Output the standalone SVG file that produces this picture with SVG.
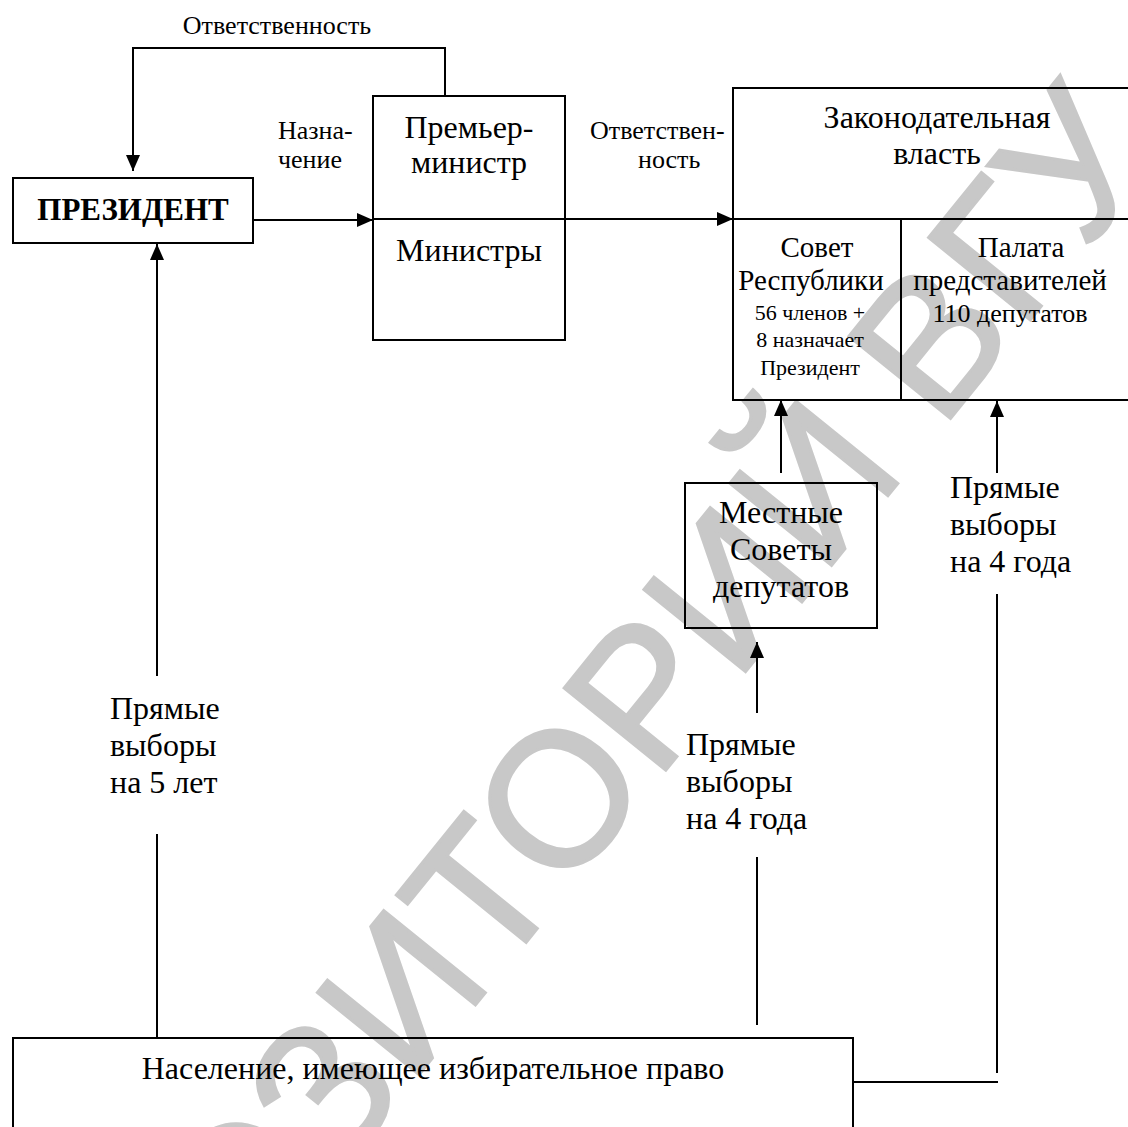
<svg xmlns="http://www.w3.org/2000/svg" width="1128" height="1127" viewBox="0 0 1128 1127">
<style>
  .t { font-family: "Liberation Serif", "Times New Roman", serif; fill: #000; }
  .s26 { font-size: 26px; }
  .s32 { font-size: 32px; }
  .s29 { font-size: 29px; }
  .s22 { font-size: 22px; }
  .c { text-anchor: middle; }
  .box { fill: none; stroke: #000; stroke-width: 2; }
  .ln { fill: none; stroke: #000; stroke-width: 2; }
  .wm { font-family: "Liberation Sans", Arial, sans-serif; font-size: 190px; fill: #c8c8c8; stroke: #c8c8c8; stroke-width: 3; }
</style>
<defs>
  <marker id="ah" markerUnits="userSpaceOnUse" markerWidth="16" markerHeight="14" refX="16" refY="7" orient="auto">
    <path d="M0,0 L16,7 L0,14 z" fill="#000"/>
  </marker>
</defs>
<rect x="0" y="0" width="1128" height="1127" fill="#fff"/>
<text class="wm" text-anchor="middle" transform="translate(580,876) rotate(-51)">РЕПОЗИТОРИЙ ВГУ</text>

<g id="connectors">
  <polyline class="ln" points="445,96 445,48 133,48 133,171" marker-end="url(#ah)"/>
  <line class="ln" x1="253" y1="220" x2="373" y2="220" marker-end="url(#ah)"/>
  <line class="ln" x1="565" y1="219" x2="733" y2="219" marker-end="url(#ah)"/>
  <line class="ln" x1="157" y1="676" x2="157" y2="244" marker-end="url(#ah)"/>
  <line class="ln" x1="157" y1="834" x2="157" y2="1037"/>
  <line class="ln" x1="781" y1="473" x2="781" y2="400" marker-end="url(#ah)"/>
  <line class="ln" x1="997" y1="473" x2="997" y2="401" marker-end="url(#ah)"/>
  <line class="ln" x1="997" y1="594" x2="997" y2="1073"/>
  <line class="ln" x1="853" y1="1082" x2="998" y2="1082"/>
  <line class="ln" x1="757" y1="713" x2="757" y2="642" marker-end="url(#ah)"/>
  <line class="ln" x1="757" y1="857" x2="757" y2="1025"/>
  <text class="t s26 c" x="277" y="34">Ответственность</text>
  <text class="t s26" x="278" y="139">Назна-</text>
  <text class="t s26" x="278" y="168">чение</text>
  <text class="t s26" x="590" y="139">Ответствен-</text>
  <text class="t s26" x="638" y="168">ность</text>
  <text class="t s32" x="110" y="719">Прямые</text>
  <text class="t s32" x="110" y="756">выборы</text>
  <text class="t s32" x="110" y="793">на 5 лет</text>
  <text class="t s32" x="686" y="755">Прямые</text>
  <text class="t s32" x="686" y="792">выборы</text>
  <text class="t s32" x="686" y="829">на 4 года</text>
  <text class="t s32" x="950" y="498">Прямые</text>
  <text class="t s32" x="950" y="535">выборы</text>
  <text class="t s32" x="950" y="572">на 4 года</text>
</g>

<g id="president">
  <rect class="box" x="13" y="178" width="240" height="65"/>
  <text class="t c" x="133" y="220" style="font-size:31px;font-weight:bold">ПРЕЗИДЕНТ</text>
</g>

<g id="premier">
  <rect class="box" x="373" y="96" width="192" height="244"/>
  <line class="ln" x1="373" y1="219" x2="565" y2="219"/>
  <text class="t s32 c" x="469" y="138">Премьер-</text>
  <text class="t s32 c" x="469" y="173">министр</text>
  <text class="t s32 c" x="469" y="261">Министры</text>
</g>

<g id="legislature">
  <path class="box" d="M1130,88 H733 V400 H1130"/>
  <line class="ln" x1="733" y1="219" x2="1130" y2="219"/>
  <line class="ln" x1="901" y1="219" x2="901" y2="400"/>
  <text class="t s32 c" x="937" y="128">Законодательная</text>
  <text class="t s32 c" x="937" y="164">власть</text>
  <text class="t s29 c" x="817" y="257">Совет</text>
  <text class="t s29 c" x="811" y="290">Республики</text>
  <text class="t s22 c" x="810" y="320">56 членов +</text>
  <text class="t s22 c" x="810" y="347">8 назначает</text>
  <text class="t s22 c" x="810" y="375">Президент</text>
  <text class="t s29 c" x="1021" y="257">Палата</text>
  <text class="t s29 c" x="1010" y="290">представителей</text>
  <text class="t s26 c" x="1010" y="322">110 депутатов</text>
</g>

<g id="local-councils">
  <rect class="box" x="685" y="483" width="192" height="145"/>
  <text class="t s32 c" x="781" y="523">Местные</text>
  <text class="t s32 c" x="781" y="560">Советы</text>
  <text class="t s32 c" x="781" y="597">депутатов</text>
</g>

<g id="population">
  <path class="box" d="M13,1130 V1038 H853 V1130"/>
  <text class="t s32 c" x="433" y="1079">Население, имеющее избирательное право</text>
</g>
</svg>
